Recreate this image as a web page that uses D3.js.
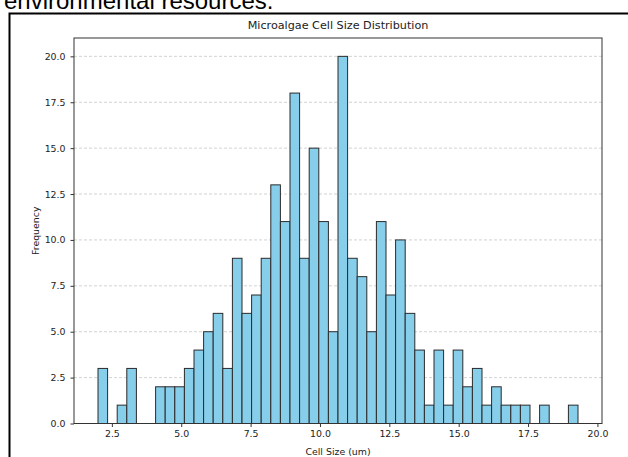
<!DOCTYPE html>
<html>
<head>
<meta charset="utf-8">
<script src="https://cdn.jsdelivr.net/npm/d3@7"></script>
<style>
    html, body { margin: 0; padding: 0; background: #fff; }
    svg { display: block; }
    text { font-family: "DejaVu Sans", sans-serif; fill: #222; }
</style>
</head>
<body>
<svg id="chart" width="628" height="457"></svg>
<script>
(function() {
"use strict";

// histogram: 50 equal bins between binStart and binEnd
var binStart = 2.0;
var binEnd = 19.3;
var counts = [
    3, 0, 1, 3, 0, 0, 2, 2, 2, 3,
    4, 5, 6, 3, 9, 6, 7, 9, 13, 11,
    18, 9, 15, 11, 5, 20, 9, 8, 5, 11,
    7, 10, 6, 4, 1, 4, 1, 4, 2, 3,
    1, 2, 1, 1, 1, 0, 1, 0, 0, 1
];
var xTicks = [2.5, 5.0, 7.5, 10.0, 12.5, 15.0, 17.5, 20.0];
var yTicks = [0, 2.5, 5.0, 7.5, 10.0, 12.5, 15.0, 17.5, 20.0];

var title = 'Microalgae Cell Size Distribution';
var xLabel = 'Cell Size (um)';
var yLabel = 'Frequency';
var caption = 'environmental resources.';

var bounds = {left: 74, top: 38, right: 602, bottom: 423.5};
var binWidth = (binEnd - binStart) / counts.length;
var pad = (binEnd - binStart) * 0.05;

var bins = counts.map(function(c, i) {
    return {x0: binStart + i * binWidth, x1: binStart + (i + 1) * binWidth, count: c};
});

var x = d3.scaleLinear()
          .domain([binStart - pad, binEnd + pad])
          .range([bounds.left, bounds.right]);
var y = d3.scaleLinear()
          .domain([0, d3.max(counts) * 1.05])
          .range([bounds.bottom, bounds.top]);

var svg = d3.select('#chart');

// screenshot remains: cut caption and frame
svg.append('text')
   .attr('x', 4)
   .attr('y', 9)
   .style('font-family', '"Liberation Sans", Arial, sans-serif')
   .style('font-size', '24px')
   .style('fill', '#000')
   .text(caption);

svg.append('rect')
   .attr('x', 9.5)
   .attr('y', 13.5)
   .attr('width', 700)
   .attr('height', 500)
   .attr('fill', 'none')
   .attr('stroke', '#000')
   .attr('stroke-width', 2);

// grid
svg.append('g')
   .attr('class', 'grid')
   .selectAll('line')
   .data(yTicks)
   .join('line')
       .attr('x1', bounds.left)
       .attr('x2', bounds.right)
       .attr('y1', function(d) { return y(d); })
       .attr('y2', function(d) { return y(d); })
       .attr('stroke', '#c8c8c8')
       .attr('stroke-width', 0.8)
       .attr('stroke-dasharray', '3,2');

// bars
svg.append('g')
   .attr('class', 'bars')
   .selectAll('rect')
   .data(bins.filter(function(d) { return d.count > 0; }))
   .join('rect')
       .attr('x', function(d) { return x(d.x0); })
       .attr('y', function(d) { return y(d.count); })
       .attr('width', function(d) { return x(d.x1) - x(d.x0); })
       .attr('height', function(d) { return y(0) - y(d.count); })
       .attr('fill', '#87ceeb')
       .attr('stroke', '#2b2b2b')
       .attr('stroke-width', 1);

// axes
var xAxis = svg.append('g')
               .attr('transform', 'translate(0,' + bounds.bottom + ')')
               .call(d3.axisBottom(x).tickValues(xTicks).tickFormat(d3.format('.1f'))
                                     .tickSizeOuter(0).tickSize(3.5).tickPadding(3.5));
var yAxis = svg.append('g')
               .attr('transform', 'translate(' + bounds.left + ',0)')
               .call(d3.axisLeft(y).tickValues(yTicks).tickFormat(d3.format('.1f'))
                                   .tickSizeOuter(0).tickSize(3.5).tickPadding(5));

[xAxis, yAxis].forEach(function(axis) {
    axis.select('.domain').remove();
    axis.selectAll('.tick line').attr('stroke', '#333');
    axis.selectAll('.tick text')
        .style('font-family', '"DejaVu Sans", sans-serif')
        .style('font-size', '9.4px')
        .attr('fill', '#222');
});

// frame
svg.append('rect')
   .attr('x', bounds.left)
   .attr('y', bounds.top)
   .attr('width', bounds.right - bounds.left)
   .attr('height', bounds.bottom - bounds.top)
   .attr('fill', 'none')
   .attr('stroke', '#333')
   .attr('stroke-width', 1);

// labels
svg.append('text')
   .attr('x', (bounds.left + bounds.right) / 2)
   .attr('y', 29)
   .attr('text-anchor', 'middle')
   .style('font-size', '11.2px')
   .text(title);

svg.append('text')
   .attr('x', (bounds.left + bounds.right) / 2)
   .attr('y', 455)
   .attr('text-anchor', 'middle')
   .style('font-size', '9.4px')
   .text(xLabel);

svg.append('text')
   .attr('transform', 'translate(39,' + ((bounds.top + bounds.bottom) / 2) + ') rotate(-90)')
   .attr('text-anchor', 'middle')
   .style('font-size', '9.4px')
   .text(yLabel);

}());
</script>
</body>
</html>
